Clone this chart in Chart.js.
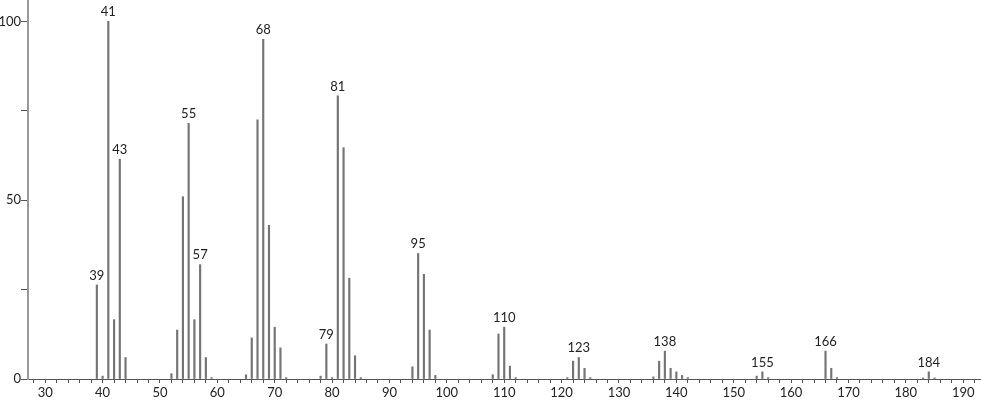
<!DOCTYPE html>
<html>
<head>
<meta charset="utf-8">
<script src="https://cdn.jsdelivr.net/npm/chart.js@4/dist/chart.umd.min.js"></script>
<style>
  body { margin: 0; background: #fff; }
  canvas { display: block; }
</style>
</head>
<body>
<canvas id="spec" width="981" height="401"></canvas>
<script>
// m/z values and relative intensities
const mz = [39, 40, 41, 42, 43, 44, 52, 53, 54, 55, 56, 57, 58, 59,
  65, 66, 67, 68, 69, 70, 71, 72, 78, 79, 80, 81, 82, 83, 84, 85,
  94, 95, 96, 97, 98, 108, 109, 110, 111, 112, 121, 122, 123, 124, 125,
  136, 137, 138, 139, 140, 141, 142, 154, 155, 156, 166, 167, 168, 183, 184, 185]
const intensity = [26.3, 0.8, 100, 16.6, 61.5, 6, 1.5, 13.7, 51, 71.5, 16.6, 32, 6, 0.4,
  1.2, 11.5, 72.5, 95, 43, 14.5, 8.7, 0.4, 0.8, 9.8, 0.4, 79.2, 64.7, 28.2, 6.5, 0.4,
  3.4, 35.1, 29.3, 13.7, 1, 1.2, 12.6, 14.5, 3.6, 0.4, 0.4, 5, 6, 3, 0.4,
  0.6, 5, 7.8, 3, 2, 1, 0.4, 0.8, 2, 0.4, 7.8, 3, 0.4, 0.3, 2, 0.3]
const labelled = [39, 41, 43, 55, 57, 68, 79, 81, 95, 110, 123, 138, 155, 166, 184]
const yTickLabels = [0, 50, 100]

const font = { family: 'Lato', size: 13 }

// m/z numbers above the main peaks
const peakLabels = {
  id: 'peakLabels',
  afterDatasetsDraw(chart) {
    const ctx = chart.ctx
    const meta = chart.getDatasetMeta(0)
    ctx.save()
    ctx.font = '13px Lato'
    ctx.fillStyle = '#222'
    ctx.textAlign = 'center'
    ctx.textBaseline = 'bottom'
    meta.data.forEach((bar, i) => {
      if (labelled.includes(mz[i])) {
        ctx.fillText(String(mz[i]), bar.x, bar.y - 3)
      }
    })
    ctx.restore()
  }
}

new Chart(document.getElementById('spec'), {
  type: 'bar',
  data: {
    datasets: [{
      data: mz.map((m, i) => ({ x: m, y: intensity[i] })),
      backgroundColor: '#747474',
      barThickness: 1.5
    }]
  },
  options: {
    responsive: false,
    animation: false,
    layout: { padding: 0 },
    plugins: { legend: { display: false }, tooltip: { enabled: false } },
    scales: {
      x: {
        type: 'linear',
        min: 27,
        max: 193.1,
        offset: false,
        border: { color: '#555', width: 1 },
        grid: { drawOnChartArea: false, offset: false, tickLength: 4, color: '#555' },
        ticks: {
          stepSize: 2,
          includeBounds: false,
          autoSkip: false,
          maxRotation: 0,
          padding: 2,
          color: '#222',
          font: font,
          callback: v => (Math.round(v) % 10 === 0 ? String(Math.round(v)) : '')
        },
        afterFit: s => { s.height = 22; s.paddingLeft = 0; s.paddingRight = 0 }
      },
      y: {
        min: 0,
        max: 106,
        border: { color: '#999', width: 2 },
        grid: { drawOnChartArea: false, tickLength: 7, color: '#555' },
        ticks: {
          stepSize: 25,
          includeBounds: false,
          autoSkip: false,
          padding: 0,
          color: '#222',
          font: font,
          callback: v => (yTickLabels.includes(v) ? String(v) : '')
        },
        afterFit: s => { s.width = 28; s.paddingTop = 0; s.paddingBottom = 0 }
      }
    }
  },
  plugins: [peakLabels]
})
</script>
</body>
</html>
